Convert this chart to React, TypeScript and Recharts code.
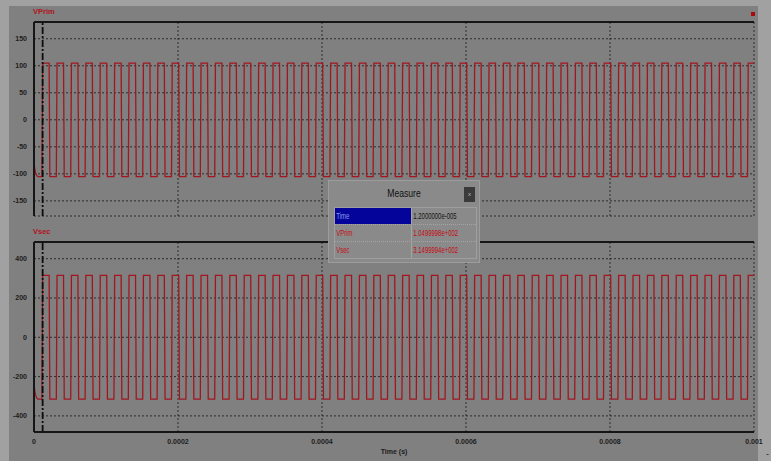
import { LineChart, Line, XAxis, YAxis, CartesianGrid, ReferenceLine } from "recharts"

// axis ticks
const TIME_TICKS = [0, 0.0002, 0.0004, 0.0006, 0.0008, 0.001]
const VPRIM_TICKS = [-150, -100, -50, 0, 50, 100, 150]
const VSEC_TICKS = [-400, -200, 0, 200, 400]

// start-up transient before the first switching edge (µs)
const START_US = [0, 1, 2, 3, 4, 5, 6]
const VPRIM_START = [-80, -90, -97, -101, -103.5, -104.5, -105]
const VSEC_START = [-240, -270, -291, -303, -310, -313.5, -315]

// switching instants (µs)
const RISE_US = [
  11, 31, 51, 71, 91, 111, 131, 151, 171, 191,
  211, 231, 251, 271, 291, 311, 331, 351, 371, 391,
  411, 431, 451, 471, 491, 511, 531, 551, 571, 591,
  611, 631, 651, 671, 691, 711, 731, 751, 771, 791,
  811, 831, 851, 871, 891, 911, 931, 951, 971, 991,
]
const FALL_US = [
  21, 41, 61, 81, 101, 121, 141, 161, 181, 201,
  221, 241, 261, 281, 301, 321, 341, 361, 381, 401,
  421, 441, 461, 481, 501, 521, 541, 561, 581, 601,
  621, 641, 661, 681, 701, 721, 741, 761, 781, 801,
  821, 841, 861, 881, 901, 921, 941, 961, 981,
]
const EDGE_US = 1
const END_US = 1000

// low / high plateau of each winding
const VPRIM_LEVELS = [-105, 105]
const VSEC_LEVELS = [-315, 315]

const CURSOR_S = 1.2e-5

const FRAME = "#161616"
const GRID = "#2c2c2c"
const WAVE = "#a3161f"
const TEXT = "#1c1c1c"
const FONT = "'Liberation Sans', Arial, sans-serif"

type Row = { t: number; vprim: number; vsec: number }

function buildData(): Row[] {
  const rows: Row[] = START_US.map((us, i) => ({
    t: us * 1e-6,
    vprim: VPRIM_START[i],
    vsec: VSEC_START[i],
  }))
  const push = (us: number, lvl: number) =>
    rows.push({ t: us * 1e-6, vprim: VPRIM_LEVELS[lvl], vsec: VSEC_LEVELS[lvl] })
  RISE_US.forEach((r, k) => {
    push(r, 0)
    push(r + EDGE_US, 1)
    const f = FALL_US[k]
    if (f !== undefined) {
      push(f, 1)
      push(f + EDGE_US, 0)
    }
  })
  push(END_US, 1)
  return rows
}

const DATA = buildData()

const yTick = (props: any) => (
  <text
    x={props.x - 7}
    y={props.y}
    dy={2.5}
    textAnchor="end"
    fontSize={7}
    fontWeight={700}
    fontFamily={FONT}
    fill={TEXT}
    opacity={0.99}
  >
    {props.payload.value}
  </text>
)

const xTick = (props: any) => (
  <text
    x={props.x}
    y={props.y}
    dy={12}
    textAnchor="middle"
    fontSize={7}
    fontWeight={700}
    fontFamily={FONT}
    fill={TEXT}
    opacity={0.99}
  >
    {String(props.payload.value)}
  </text>
)

const noTick = () => <g />

interface PanelProps {
  top: number
  height: number
  dataKey: "vprim" | "vsec"
  domain: [number, number]
  ticks: number[]
  showTime: boolean
  label: string
}

function Panel({ top, height, dataKey, domain, ticks, showTime, label }: PanelProps) {
  return (
    <div style={{ position: "absolute", left: 0, top }}>
      <div
        style={{
          position: "absolute",
          left: 33,
          top: 7,
          fontSize: 7.5,
          fontWeight: 700,
          fontFamily: FONT,
          color: "#b0141c",
          lineHeight: "9px",
        }}
      >
        {label}
      </div>
      <LineChart
        width={771}
        height={height}
        data={DATA}
        margin={{ top: 22, right: 17, bottom: showTime ? 9 : 4, left: 8 }}
      >
        <CartesianGrid stroke={GRID} strokeDasharray="2 2" strokeWidth={1} />
        <XAxis
          type="number"
          dataKey="t"
          domain={[0, END_US * 1e-6]}
          ticks={TIME_TICKS}
          allowDataOverflow
          height={showTime ? 20 : 0}
          axisLine={{ stroke: FRAME, strokeWidth: 2 }}
          tickLine={false}
          tickSize={0}
          tickMargin={0}
          tick={showTime ? xTick : noTick}
          interval={0}
        />
        <YAxis
          type="number"
          domain={domain}
          ticks={ticks}
          allowDataOverflow
          width={26}
          axisLine={{ stroke: FRAME, strokeWidth: 2 }}
          tickLine={false}
          tickSize={0}
          tickMargin={0}
          tick={yTick}
          interval={0}
        />
        <ReferenceLine y={domain[1]} stroke={FRAME} strokeWidth={2} />
        <Line
          type="linear"
          dataKey={dataKey}
          stroke={WAVE}
          strokeWidth={1.3}
          dot={false}
          isAnimationActive={false}
        />
        <ReferenceLine
          x={CURSOR_S}
          stroke="#0c0c0c"
          strokeWidth={1.8}
          strokeDasharray="7 2 2 2"
        />
      </LineChart>
    </div>
  )
}

function MeasureBox() {
  const cell = {
    height: 16,
    display: "flex",
    alignItems: "center",
    overflow: "hidden",
    whiteSpace: "nowrap" as const,
  }
  const txt = (color: string) => ({
    fontSize: 9,
    fontFamily: FONT,
    color,
    transform: "scaleX(0.66)",
    transformOrigin: "left center",
    display: "inline-block",
    paddingLeft: 2,
  })
  const rows = [
    { name: "Time", value: "1.2000000e-005", nameColor: "#8c9cf0", valueColor: "#141414", sel: true },
    { name: "VPrim", value: "1.0499998e+002", nameColor: "#c40c14", valueColor: "#c40c14", sel: false },
    { name: "Vsec", value: "3.1499994e+002", nameColor: "#c40c14", valueColor: "#c40c14", sel: false },
  ]
  return (
    <div
      style={{
        position: "absolute",
        left: 328,
        top: 180,
        width: 152,
        height: 83,
        background: "#8a8a8a",
        border: "1px solid #9c9c9c",
        boxSizing: "border-box",
      }}
    >
      <div
        style={{
          position: "absolute",
          left: 0,
          right: 0,
          top: 6,
          textAlign: "center",
          fontSize: 10.5,
          fontFamily: FONT,
          color: "#111",
          transform: "scaleX(0.82)",
        }}
      >
        Measure
      </div>
      <div
        style={{
          position: "absolute",
          left: 135,
          top: 6,
          width: 11,
          height: 15,
          background: "#3a3a3a",
          color: "#bbb",
          fontSize: 6,
          fontFamily: FONT,
          textAlign: "center",
          lineHeight: "15px",
        }}
      >
        x
      </div>
      <div
        style={{
          position: "absolute",
          left: 5,
          top: 26,
          width: 143,
          border: "1px solid #9e9e9e",
          boxSizing: "border-box",
        }}
      >
        {rows.map((r, i) => (
          <div
            key={r.name}
            style={{
              display: "flex",
              borderTop: i === 0 ? "none" : "1px dotted #a4a4a4",
            }}
          >
            <div
              style={{
                ...cell,
                width: 76,
                background: r.sel ? "#04049a" : "transparent",
                borderRight: "1px solid #a4a4a4",
              }}
            >
              <span style={txt(r.nameColor)}>{r.name}</span>
            </div>
            <div style={{ ...cell, flex: 1 }}>
              <span style={txt(r.valueColor)}>{r.value}</span>
            </div>
          </div>
        ))}
      </div>
    </div>
  )
}

export default function App() {
  return (
    <div
      style={{
        position: "absolute",
        left: 0,
        top: 0,
        width: 771,
        height: 461,
        background: "#a1a1a1",
        overflow: "hidden",
      }}
    >
      <div
        style={{
          position: "absolute",
          left: 9,
          top: 6,
          width: 749,
          height: 455,
          background: "#808080",
        }}
      />
      <Panel
        top={0}
        height={220}
        dataKey="vprim"
        domain={[-178, 181]}
        ticks={VPRIM_TICKS}
        showTime={false}
        label="VPrim"
      />
      <Panel
        top={220}
        height={241}
        dataKey="vsec"
        domain={[-482, 485]}
        ticks={VSEC_TICKS}
        showTime={true}
        label="Vsec"
      />
      <div
        style={{
          position: "absolute",
          left: 751,
          top: 12,
          width: 4,
          height: 4,
          background: "#a80a0a",
        }}
      />
      <div
        style={{
          position: "absolute",
          left: 364,
          top: 448,
          width: 60,
          textAlign: "center",
          fontSize: 7,
          fontWeight: 700,
          fontFamily: FONT,
          color: TEXT,
        }}
      >
        Time (s)
      </div>
      <div
        style={{
          position: "absolute",
          left: 766,
          top: 449,
          fontSize: 9,
          fontFamily: FONT,
          color: "#222",
        }}
      >
        -
      </div>
      <MeasureBox />
    </div>
  )
}
